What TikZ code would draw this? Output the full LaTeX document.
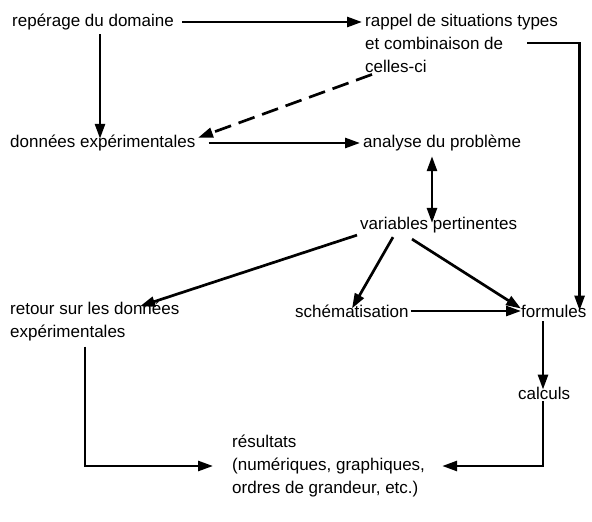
\documentclass[tikz,border=0pt]{standalone}
\usepackage{fontspec}
\setsansfont{Liberation Sans}
\usetikzlibrary{arrows.meta, positioning}
\tikzset{
    base/.style = {inner sep=0pt, font=\sffamily\fontsize{17}{23}\selectfont},
    txt/.style  = {base, anchor=west, align=left},
    % Edges
    arrow/.style = {line width=2.7pt, -{Triangle[length=15pt, width=10pt]}},
    double_arrow/.style = {arrow, {Triangle[length=15pt, width=10pt]}-{Triangle[length=15pt, width=10pt]}},
    dashed_arrow/.style = {arrow, dash pattern=on 17pt off 8pt}
}

\begin{document}
\begin{tikzpicture}[x=1pt, y=-1pt]
    \useasboundingbox (0,0) rectangle (592,522);

    % Nodes
    \node (dom) [txt] at (12,22) {repérage du domaine};
    \node (rap) [txt] at (365,43) {rappel de situations types\\et combinaison de\\celles-ci};
    \node (don) [txt] at (10,143) {données expérimentales};
    \node (ana) [txt] at (363,143) {analyse du problème};
    \node (var) [txt] at (360,225) {variables pertinentes};
    \node (ret) [txt] at (10,322) {retour sur les données\\expérimentales};
    \node (sch) [txt] at (295,311) {schématisation};
    \node (form) [txt] at (521,311) {formules};
    \node (calc) [txt] at (518,393) {calculs};
    \node (res) [txt] at (232,466) {résultats\\(numériques, graphiques,\\ordres de grandeur, etc.)};

    % Edges
    \draw [arrow] ([xshift=8pt]dom.east) -- ([xshift=-3pt]dom.east -| rap.west);
    \draw [arrow] ([xshift=88pt,yshift=-4pt]dom.south west) -- ([xshift=90pt,yshift=-4pt]don.north west);
    \draw [arrow] ([xshift=162pt]rap.west) -| ([xshift=-7pt,yshift=-6pt]form.north east);
    \draw [dashed_arrow] ([xshift=7pt,yshift=-2pt]rap.south west) -- ([xshift=188pt,yshift=-3pt]don.north west);

    \draw [arrow] ([xshift=13pt]don.east) -- ([xshift=-3pt]ana.west);
    \draw [double_arrow] ([xshift=69pt,yshift=-5pt]ana.south west) -- ([xshift=72pt,yshift=-6pt]var.north west);

    \draw [arrow] ([xshift=-3pt,yshift=-2pt]var.south west) -- ([xshift=130pt,yshift=-4pt]ret.north west);
    \draw [arrow] ([xshift=33pt,yshift=-4pt]var.south west) -- ([xshift=57pt,yshift=-4pt]sch.north west);
    \draw [arrow] ([xshift=52pt,yshift=-6pt]var.south west) -- ([xshift=0pt,yshift=-4pt]form.north west);
    \draw [arrow] ([xshift=2pt]sch.east) -- (form.west);

    \draw [arrow] ([xshift=22pt,yshift=-4pt]form.south west) -- ([xshift=25pt,yshift=-3pt]calc.north west);
    \draw [arrow] ([xshift=25pt,yshift=-2pt]calc.south west) |- ([xshift=17pt]res.east);
    \draw [arrow] ([xshift=75pt,yshift=-5pt]ret.south west) |- ([xshift=-19pt]res.west);
\end{tikzpicture}
\end{document}
